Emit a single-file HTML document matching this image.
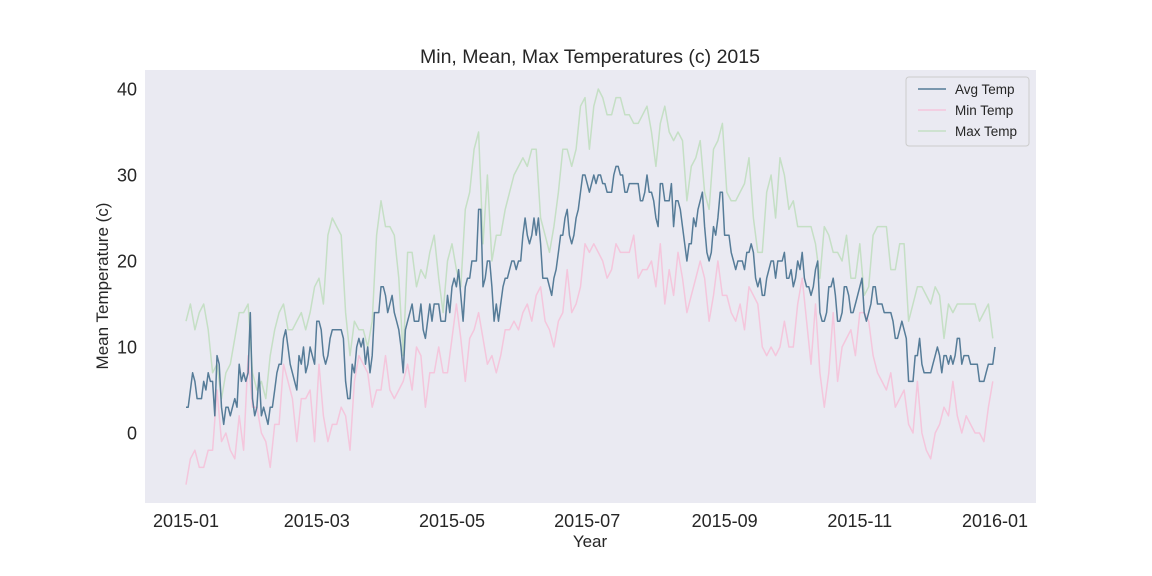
<!DOCTYPE html>
<html><head><meta charset="utf-8"><style>
body{margin:0;background:#fff;}
svg{display:block;font-family:"Liberation Sans","DejaVu Sans",sans-serif;}
</style></head><body>
<svg id="chart" width="1152" height="576" viewBox="0 0 1152 576" xmlns="http://www.w3.org/2000/svg">
<rect x="145" y="70" width="891" height="433" fill="#eaeaf2"/>
<text x="590" y="63" text-anchor="middle" font-size="19.5" fill="#262626">Min, Mean, Max Temperatures (c) 2015</text>
<text x="590" y="547" text-anchor="middle" font-size="17" fill="#262626">Year</text>
<text transform="translate(108,286) rotate(-90)" text-anchor="middle" font-size="17" fill="#262626">Mean Temperature (c)</text>
<g id="ticks"></g>
<g id="series"></g>
<g>
<rect x="906" y="77" width="123" height="69" rx="3" fill="#eaeaf2" stroke="#cccccc" stroke-width="1"/>
<line x1="918" y1="89" x2="946" y2="89" stroke="#46708e" stroke-opacity="0.9" stroke-width="1.5"/>
<text x="955" y="94" font-size="13.5" fill="#262626">Avg Temp</text>
<line x1="918" y1="110" x2="946" y2="110" stroke="#f4c6dc" stroke-width="1.5"/>
<text x="955" y="115" font-size="13.5" fill="#262626">Min Temp</text>
<line x1="918" y1="131" x2="946" y2="131" stroke="#c5dfc5" stroke-width="1.5"/>
<text x="955" y="136" font-size="13.5" fill="#262626">Max Temp</text>
</g>
</svg>
<script>
const avgVals=[3,3,5,7,6,4,4,4,6,5,7,6,6,2,9,8,3,1,3,3,2,3,4,3,8,6,7,6,7,14,4,2,3,7,2,3,2,1,3,3,5,7,8,8,11,12,10,8,7,6,5,9,8,10,7,8,10,9,8,13,13,12,9,8,9,11,12,12,12,12,12,11,6,4,4,8,7,10,11,10,11,8,10,7,9,14,14,14,17,17,16,14,15,16,14,13,12,10,7,12,13,14,15,13,13,13,15,12,11,13,15,13,15,15,15,13,13,13,16,14,17,18,17,19,16,13,17,18,18,20,20,20,26,26,17,18,20,20,17,13,15,13,15,17,18,18,19,20,20,19,20,20,23,25,23,22,23,25,23,25,22,18,18,18,17,16,18,19,21,23,23,25,26,23,22,23,25,26,28,30,30,29,28,29,30,29,30,30,29,29,28,28,28,30,31,31,30,30,28,28,29,29,29,29,29,27,27,28,30,28,28,27,25,24,29,29,27,27,27,29,24,27,27,26,24,22,20,22,22,25,24,26,27,28,24,21,20,21,24,23,25,28,28,23,23,23,21,20,19,20,20,20,19,21,21,22,21,18,17,18,16,16,18,19,20,20,18,20,20,20,21,18,18,19,17,18,20,19,21,18,17,17,16,17,19,20,14,13,13,14,17,17,18,16,13,13,14,17,17,16,14,14,15,16,17,18,14,13,14,15,17,17,15,15,15,14,14,14,14,13,11,11,12,13,12,11,6,6,6,9,9,11,8,7,7,7,7,8,9,10,9,7,9,9,8,9,8,9,11,11,8,9,9,9,8,8,8,8,6,6,6,7,8,8,8,10];
const maxVals=[13,15,12,14,15,12,7,8,4,7,8,11,14,14,15,7,5,6,4,9,12,14,15,12,12,13,14,12,14,17,18,15,23,25,24,23,14,9,13,12,12,10,13,23,27,24,24,23,18,9,21,21,17,19,18,21,23,18,14,20,22,19,17,26,28,33,35,22,30,20,23,23,26,28,30,31,32,31,33,33,25,23,21,24,28,33,33,31,33,38,39,33,38,40,39,37,37,39,39,37,37,36,36,37,38,35,31,36,38,35,34,35,34,27,31,32,34,28,26,33,34,36,28,27,27,28,29,32,25,21,21,28,30,25,32,30,26,27,24,24,24,24,22,18,24,23,21,21,20,23,18,18,22,16,17,23,24,24,24,19,19,22,22,13,15,17,17,16,15,17,16,11,15,14,15,15,15,15,15,13,14,15,11];
const minVals=[-6,-3,-2,-4,-4,-2,-2,5,-1,0,-2,-3,2,-2,9,3,3,0,-1,-4,1,1,8,6,4,-1,4,4,5,-1,8,2,-1,1,1,3,2,-2,6,9,8,7,3,5,5,9,5,4,5,6,8,5,10,9,3,7,7,10,7,7,11,15,11,6,11,12,14,11,8,9,7,9,12,12,13,12,14,15,13,16,17,13,12,10,13,14,19,14,15,17,22,21,22,21,20,18,19,22,21,21,21,23,18,19,19,20,17,22,15,19,16,21,18,14,16,18,20,18,13,16,20,16,16,14,13,15,12,17,16,15,10,9,10,9,10,13,10,10,15,18,13,8,15,7,3,7,14,6,10,11,12,9,14,14,13,9,7,6,5,7,3,4,5,1,0,6,0,-2,-3,0,1,3,2,6,2,0,2,1,0,0,-1,3,6];
const yTicks=[0,10,20,30,40];
const xTickLabels=["2015-01","2015-03","2015-05","2015-07","2015-09","2015-11","2016-01"];
const xTickDays=[0,59,120,181,243,304,365];

const NS="http://www.w3.org/2000/svg";
function xScale(d){return 186+d*(809/365);}
function yScale(t){return 433-t*8.6;}
const ticks=document.getElementById('ticks');
yTicks.forEach(v=>{
  const t=document.createElementNS(NS,'text');
  
  
  t.setAttribute('x',137);t.setAttribute('y',yScale(v)+6.5);
  t.setAttribute('text-anchor','end');t.setAttribute('font-size','18');t.setAttribute('fill','#262626');
  t.textContent=v;ticks.appendChild(t);
});
xTickLabels.forEach((lab,i)=>{
  const t=document.createElementNS(NS,'text');
  
  
  t.setAttribute('x',xScale(xTickDays[i]));t.setAttribute('y',527);
  t.setAttribute('text-anchor','middle');t.setAttribute('font-size','18');t.setAttribute('fill','#262626');
  t.textContent=lab;ticks.appendChild(t);
});
const series=document.getElementById('series');
function draw(vals,step,color,op,name){
  let d='';
  vals.forEach((v,i)=>{d+=(i?'L':'M')+xScale(i*step).toFixed(1)+','+yScale(v).toFixed(1);});
  const p=document.createElementNS(NS,'path');
  
  
  p.setAttribute('d',d);p.setAttribute('fill','none');p.setAttribute('stroke',color);
  p.setAttribute('stroke-opacity',op);p.setAttribute('stroke-width','1.5');p.setAttribute('stroke-linejoin','round');
  series.appendChild(p);
}
draw(minVals,2,'#f4c6dc',1,'min-temp-line');
draw(maxVals,2,'#c5dfc5',1,'max-temp-line');
draw(avgVals,1,'#46708e',0.9,'avg-temp-line');
</script>
</body></html>
